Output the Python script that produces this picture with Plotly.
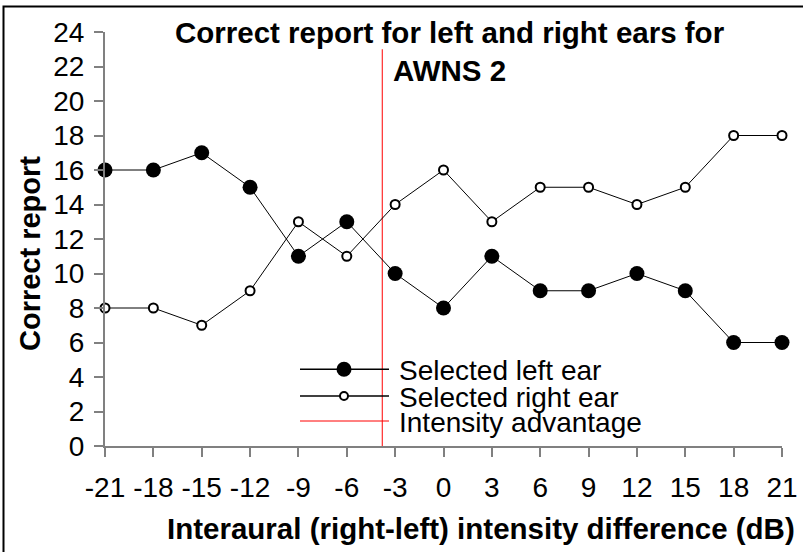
import plotly.graph_objects as go

# ---- data ----
interaural_db = [-21, -18, -15, -12, -9, -6, -3, 0, 3, 6, 9, 12, 15, 18, 21]
selected_left_ear = [16, 16, 17, 15, 11, 13, 10, 8, 11, 9, 9, 10, 9, 6, 6]
selected_right_ear = [8, 8, 7, 9, 13, 11, 14, 16, 13, 15, 15, 14, 15, 18, 18]
x_tick_labels = ["-21", "-18", "-15", "-12", "-9", "-6", "-3", "0", "3", "6", "9", "12", "15", "18", "21"]
y_tick_values = [0, 2, 4, 6, 8, 10, 12, 14, 16, 18, 20, 22, 24]
intensity_advantage_x = [-3.8, -3.8]
intensity_advantage_y = [0, 23]
legend_labels = ["Selected left ear", "Selected right ear", "Intensity advantage"]

FONT = "Liberation Sans, Arial, sans-serif"
W, H = 803, 552
ML, MR, MT, MB = 105, 21, 32, 106
PW, PH = W - ML - MR, H - MT - MB


def px(X):
    return (X - ML) / PW


def py(Y):
    return (H - MB - Y) / PH


fig = go.Figure()

fig.add_trace(go.Scatter(
    x=intensity_advantage_x, y=intensity_advantage_y, mode="lines",
    line=dict(color="#ff0000", width=1), name=legend_labels[2],
    showlegend=False, hoverinfo="skip"))

fig.add_trace(go.Scatter(
    x=interaural_db, y=selected_right_ear, mode="lines+markers",
    line=dict(color="black", width=1),
    marker=dict(symbol="circle", size=9, color="white",
                line=dict(color="black", width=2)),
    name=legend_labels[1], showlegend=False, cliponaxis=False))

fig.add_trace(go.Scatter(
    x=interaural_db, y=selected_left_ear, mode="lines+markers",
    line=dict(color="black", width=1),
    marker=dict(symbol="circle", size=15, color="black"),
    name=legend_labels[0], showlegend=False, cliponaxis=False))

shapes = []
annotations = []

# figure frame
shapes.append(dict(type="rect", xref="paper", yref="paper",
                   x0=px(3.5), x1=px(812), y0=py(562), y1=py(6.5),
                   line=dict(color="black", width=2), layer="below"))

# manual legend
leg_rows = [369.3, 396, 421]
for i, yr in enumerate(leg_rows):
    color = "#ff0000" if i == 2 else "black"
    shapes.append(dict(type="line", xref="paper", yref="paper",
                       x0=px(300), x1=px(389), y0=py(yr), y1=py(yr),
                       line=dict(color=color, width=1 if i == 2 else 1.5)))
    annotations.append(dict(text=legend_labels[i], xref="paper", yref="paper",
                            x=px(397), y=py(yr + 1), xanchor="left", yanchor="middle",
                            showarrow=False, font=dict(family=FONT, size=28, color="black")))
shapes.append(dict(type="circle", xref="paper", yref="paper",
                   xsizemode="pixel", ysizemode="pixel",
                   xanchor=px(344), yanchor=py(leg_rows[0]),
                   x0=-7.5, x1=7.5, y0=-7.5, y1=7.5,
                   fillcolor="black", line=dict(color="black", width=0)))
shapes.append(dict(type="circle", xref="paper", yref="paper",
                   xsizemode="pixel", ysizemode="pixel",
                   xanchor=px(344), yanchor=py(leg_rows[1]),
                   x0=-4, x1=4, y0=-4, y1=4,
                   fillcolor="white", line=dict(color="black", width=2)))

# title
annotations.append(dict(text="<b>Correct report for left and right ears for<br>AWNS 2</b>",
                        xref="paper", yref="paper", x=px(450), y=py(14),
                        xanchor="center", yanchor="top", align="center", showarrow=False,
                        font=dict(family=FONT, size=29.5, color="black")))
# axis titles
annotations.append(dict(text="<b>Interaural (right-left) intensity difference (dB)</b>",
                        xref="paper", yref="paper", x=px(480.5), y=py(528),
                        xanchor="center", yanchor="middle", showarrow=False,
                        font=dict(family=FONT, size=29.5, color="black")))
annotations.append(dict(text="<b>Correct report</b>", textangle=-90,
                        xref="paper", yref="paper", x=px(30), y=py(254),
                        xanchor="center", yanchor="middle", showarrow=False,
                        font=dict(family=FONT, size=29, color="black")))

fig.update_layout(
    width=W, height=H,
    margin=dict(l=ML, r=MR, t=MT, b=MB, autoexpand=False),
    paper_bgcolor="white", plot_bgcolor="white",
    showlegend=False,
    shapes=shapes, annotations=annotations,
    font=dict(family=FONT, color="black"),
)

fig.update_xaxes(range=[-21, 21], tickmode="array", tickvals=interaural_db,
                 ticktext=x_tick_labels, showgrid=False, zeroline=False,
                 showline=True, linecolor="#808080", linewidth=2,
                 ticks="outside", ticklen=9, tickcolor="#808080", tickwidth=1.5,
                 tickfont=dict(family=FONT, size=28, color="black"),
                 ticklabelstandoff=6, automargin=False)
fig.update_yaxes(range=[0, 24], tickmode="array", tickvals=y_tick_values,
                 showgrid=False, zeroline=False,
                 showline=True, linecolor="#808080", linewidth=2,
                 ticks="outside", ticklen=9, tickcolor="#808080", tickwidth=1.5,
                 tickfont=dict(family=FONT, size=28, color="black"),
                 ticklabelstandoff=4, automargin=False)

fig.write_html("out.html", config={"displayModeBar": False},
               post_script="document.body.style.margin='0';document.body.style.padding='0';")
